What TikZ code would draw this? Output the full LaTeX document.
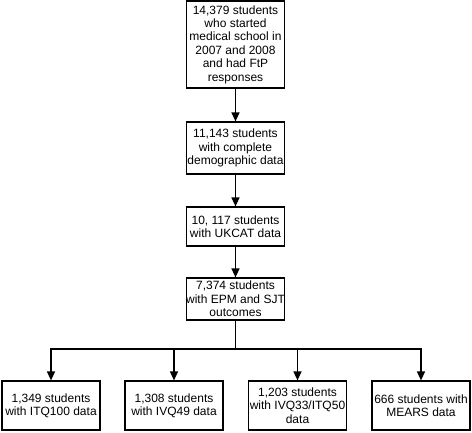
\documentclass[tikz,border=0pt]{standalone}
\usepackage{fontspec}
\setmainfont{Liberation Sans}
\usetikzlibrary{arrows.meta}
\begin{document}
\begin{tikzpicture}[x=1pt,y=-1pt,
 box/.style={draw, line width=1.2pt, align=center, inner sep=0pt, font=\fontsize{12}{13.4}\selectfont, minimum width=98pt},
 arr/.style={line width=1.2pt, -{Triangle[length=9pt,width=8pt]}},
 ln/.style={line width=1.2pt}]
\useasboundingbox (0,0) rectangle (472,432);
\node[box, minimum height=87pt] (a) at (235.5,44.5) {14,379 students\\who started\\medical school in\\2007 and 2008\\and had FtP\\responses};
\node[box, minimum height=52pt] (b) at (235.5,148) {11,143 students\\with complete\\demographic data};
\node[box, minimum height=39pt] (c) at (235.5,226.5) {10, 117 students\\with UKCAT data};
\node[box, minimum height=42pt] (d) at (235.5,299) {7,374 students\\with EPM and SJT\\outcomes};
\node[box, minimum height=49pt] (e1) at (51,405.5) {1,349 students\\with ITQ100 data};
\node[box, minimum height=49pt] (e2) at (174,405.5) {1,308 students\\with IVQ49 data};
\node[box, minimum height=49pt] (e3) at (297.5,405.5) {1,203 students\\with IVQ33/ITQ50\\data};
\node[box, minimum height=49pt] (e4) at (421,405.5) {666 students with\\MEARS data};
\draw[arr] (a) -- (b);
\draw[arr] (b) -- (c);
\draw[arr] (c) -- (d);
\coordinate (j) at (235.5,349);
\draw[ln] (d) -- (j);
\draw[arr] (j) -| (e1);
\draw[arr] (j) -| (e2);
\draw[arr] (j) -| (e3);
\draw[arr] (j) -| (e4);
\end{tikzpicture}
\end{document}
